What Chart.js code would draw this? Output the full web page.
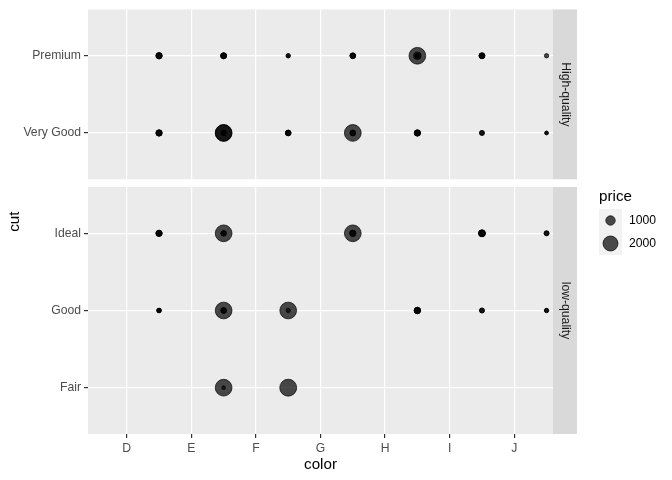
<!DOCTYPE html>
<html>
<head>
<meta charset="utf-8">
<script src="https://cdn.jsdelivr.net/npm/chart.js@4.4.0/dist/chart.umd.min.js"></script>
<style>
  html, body { margin: 0; padding: 0; background: #fff; }
  #wrap { width: 672px; height: 480px; }
</style>
</head>
<body>
<div id="wrap"><canvas id="myChart"></canvas></div>
<script>
const colorLevels = ['D', 'E', 'F', 'G', 'H', 'I', 'J'];
const highCuts = ['Very Good', 'Premium'];
const lowCuts = ['Fair', 'Good', 'Ideal'];
const facetLabels = ['High-quality', 'low-quality'];
const legendPrices = [1000, 2000];

// prices of the diamonds at each colour (D..J), one list per cut
const veryGoodPrices = [[600, 570, 540], [2400, 2300, 480, 450], [535, 510, 480], [2380, 540, 500], [600, 570, 540], [455, 430], [335, 320]];
const premiumPrices  = [[600, 570, 540], [570, 540, 510], [392, 370], [535, 510, 480], [2380, 750, 400, 380], [560, 530, 500], [392]];
const fairPrices     = [[], [2380, 330], [2420], [], [], [], []];
const goodPrices     = [[420, 400, 380], [2380, 540, 500], [2380, 390], [], [620, 590, 560], [455, 430], [392, 370]];
const idealPrices    = [[600, 570, 540], [2380, 520, 480], [], [2380, 600, 560], [], [677, 640, 600], [455, 430]];

const nudgeX = 0.5;
const expand = 0.6;
const panelGap = 0.1;

const lowMax = lowCuts.length + expand;
const highMin = lowMax + panelGap;
const highMax = highMin + highCuts.length - 1 + 2 * expand;

const panels = [
  { label: facetLabels[0], min: highMin, max: highMax },
  { label: facetLabels[1], min: 1 - expand, max: lowMax }
];

const yTickValues = [];
const yTickLabels = [];
lowCuts.forEach((c, i) => { yTickValues.push(i + 1); yTickLabels.push(c); });
highCuts.forEach((c, i) => { yTickValues.push(highMin + expand + i); yTickLabels.push(c); });

function buildPoints(prices, y) {
  const pts = [];
  prices.forEach((list, i) => {
    list.forEach(p => pts.push({ x: i + 1 + nudgeX, y: y, price: p }));
  });
  return pts;
}

const cutPrices = [fairPrices, goodPrices, idealPrices, veryGoodPrices, premiumPrices];
let points = [];
cutPrices.forEach((prices, i) => { points = points.concat(buildPoints(prices, yTickValues[i])); });

// size scale: radius grows with sqrt(price)
function radiusFor(price) {
  return Math.max(1.2, -1.56 + 0.2137 * Math.sqrt(price) - 0.5);
}

const fontFamily = "'Liberation Sans', Arial, sans-serif";
const smallFont = 12.2;
const titleFont = 15.2;
Chart.defaults.font.family = fontFamily;

const panelPlugin = {
  id: 'panels',
  beforeDraw(chart) {
    const { ctx, chartArea } = chart;
    const y = chart.scales.y;
    ctx.save();
    panels.forEach(p => {
      const top = y.getPixelForValue(p.max);
      const bottom = y.getPixelForValue(p.min);
      ctx.fillStyle = '#ebebeb';
      ctx.fillRect(chartArea.left, top, chartArea.right - chartArea.left, bottom - top);
      ctx.fillStyle = '#d9d9d9';
      ctx.fillRect(chartArea.right, top, 24, bottom - top);
      ctx.save();
      ctx.translate(chartArea.right + 12, (top + bottom) / 2);
      ctx.rotate(Math.PI / 2);
      ctx.fillStyle = '#1a1a1a';
      ctx.font = smallFont + 'px ' + fontFamily;
      ctx.textAlign = 'center';
      ctx.textBaseline = 'middle';
      ctx.fillText(p.label, 0, 0);
      ctx.restore();
    });
    ctx.restore();
  },
  afterDraw(chart) {
    const { ctx } = chart;
    const left = 599, titleY = 197, keyTop = 209, keySize = 23;
    ctx.save();
    ctx.fillStyle = '#000';
    ctx.font = titleFont + 'px ' + fontFamily;
    ctx.textAlign = 'left';
    ctx.textBaseline = 'middle';
    ctx.fillText('price', left, titleY);
    legendPrices.forEach((p, i) => {
      const cy = keyTop + i * keySize + keySize / 2;
      ctx.fillStyle = '#f2f2f2';
      ctx.fillRect(left, keyTop + i * keySize, keySize, keySize);
      ctx.beginPath();
      ctx.arc(left + keySize / 2, cy, radiusFor(p), 0, Math.PI * 2);
      ctx.fillStyle = 'rgba(0,0,0,0.7)';
      ctx.fill();
      ctx.lineWidth = 1;
      ctx.strokeStyle = 'rgba(0,0,0,0.7)';
      ctx.stroke();
      ctx.fillStyle = '#000';
      ctx.font = smallFont + 'px ' + fontFamily;
      ctx.fillText(String(p), left + keySize + 7, cy);
    });
    ctx.restore();
  }
};

new Chart(document.getElementById('myChart'), {
  type: 'scatter',
  data: {
    datasets: [{
      data: points,
      backgroundColor: 'rgba(0,0,0,0.7)',
      borderColor: 'rgba(0,0,0,0.7)',
      borderWidth: 1,
      pointRadius: ctx => radiusFor(ctx.raw.price),
      pointHoverRadius: ctx => radiusFor(ctx.raw.price)
    }]
  },
  options: {
    responsive: true,
    maintainAspectRatio: false,
    animation: false,
    events: [],
    layout: { padding: { left: 0, right: 119, top: 6, bottom: 0 } },
    plugins: { legend: { display: false }, tooltip: { enabled: false } },
    scales: {
      x: {
        type: 'linear',
        min: 1 - expand,
        max: colorLevels.length + expand,
        afterBuildTicks: scale => { scale.ticks = colorLevels.map((c, i) => ({ value: i + 1 })); },
        afterFit: scale => { scale.height = 46; scale.paddingLeft = 0; scale.paddingRight = 0; },
        ticks: {
          autoSkip: false,
          maxRotation: 0,
          padding: 3,
          color: '#4d4d4d',
          font: { size: smallFont },
          callback: (v, i) => colorLevels[i]
        },
        grid: { color: '#ffffff', lineWidth: 1.2, tickColor: '#333333', tickLength: 4 },
        border: { display: false },
        title: { display: true, text: 'color', color: '#000', font: { size: titleFont }, padding: { top: 0, bottom: 6 } }
      },
      y: {
        type: 'linear',
        min: 1 - expand,
        max: highMax,
        afterBuildTicks: scale => { scale.ticks = yTickValues.map(v => ({ value: v })); },
        afterFit: scale => { scale.width = 88; scale.paddingTop = 0; scale.paddingBottom = 0; },
        ticks: {
          autoSkip: false,
          padding: 3,
          color: '#4d4d4d',
          font: { size: smallFont },
          callback: (v, i) => yTickLabels[i]
        },
        grid: { color: '#ffffff', lineWidth: 1.2, tickColor: '#333333', tickLength: 4 },
        border: { display: false },
        title: { display: true, text: 'cut', color: '#000', font: { size: titleFont }, padding: { top: 6, bottom: 0 } }
      }
    }
  },
  plugins: [panelPlugin]
});
</script>
</body>
</html>
